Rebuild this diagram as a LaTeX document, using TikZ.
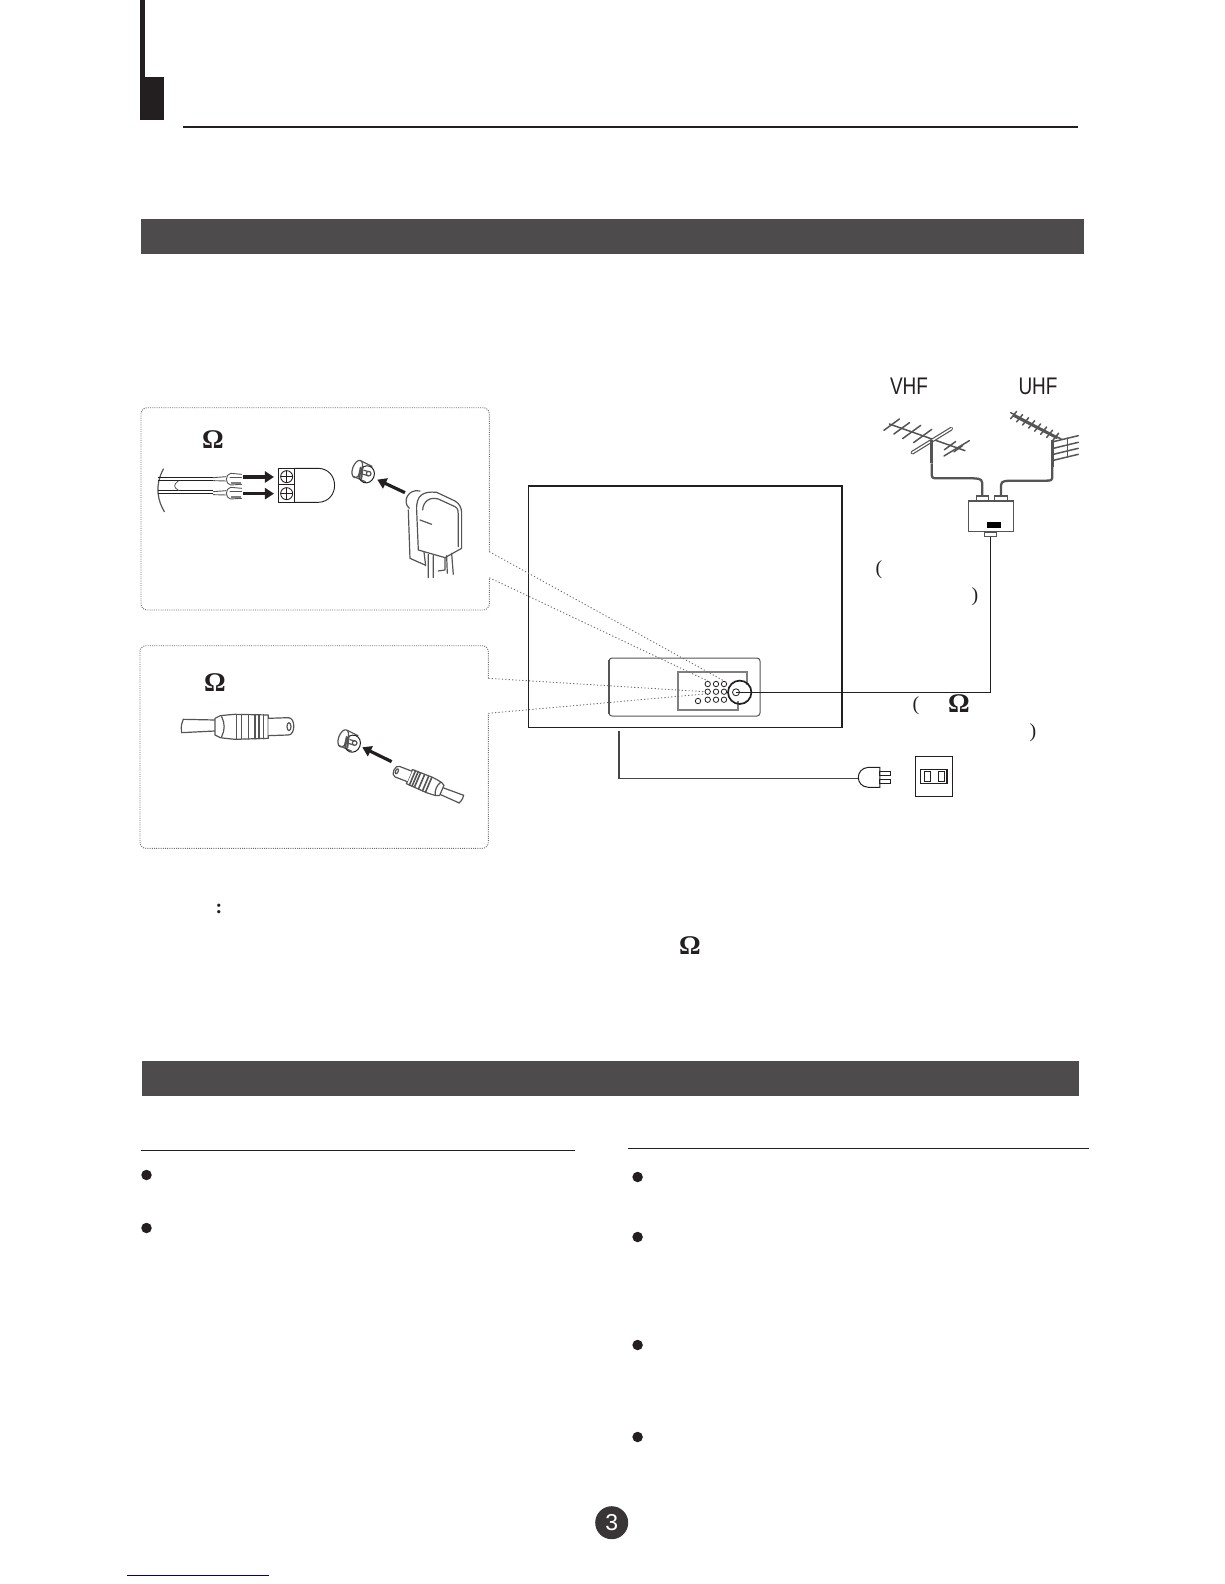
\documentclass[tikz,border=0pt]{standalone}
\usepackage{fontspec}
\setmainfont{Liberation Serif}
\newfontfamily\labelsans{Liberation Sans}
\usetikzlibrary{arrows.meta,calc}
\definecolor{band}{HTML}{4D4B4C}
\definecolor{ink}{HTML}{231F20}
\definecolor{art}{HTML}{555555}
\tikzset{
  bandbar/.style={fill=band,draw=none},
  rulebar/.style={draw=ink,line width=.9pt},
  dotbox/.style={draw=gray!85!black,line width=.9pt,dash pattern=on 1pt off 1.2pt,rounded corners=6pt},
  dotlink/.style={draw=gray!85!black,line width=.9pt,dash pattern=on 1.2pt off 2.2pt},
  omega/.style={font=\fontsize{27}{27}\selectfont\bfseries,inner sep=0pt,text=ink},
  paren/.style={font=\fontsize{20}{20}\selectfont,inner sep=0pt,text=ink},
  bandlabel/.style={font=\labelsans\fontsize{24}{24}\selectfont,inner sep=0pt,text=ink},
  artline/.style={draw=art,line width=1.2pt,line cap=round,line join=round},
  antline/.style={draw=art,line width=1.5pt,line cap=round},
  cable/.style={draw=art,line width=2.3pt,line join=round},
  blackline/.style={draw=ink,line width=1.5pt},
  fatarrow/.style={draw=ink,line width=3.2pt,-{Triangle[length=9pt,width=11pt]}},
  hole/.style={draw=ink,line width=.8pt,circle,inner sep=0pt,minimum size=5.4pt},
  bullet/.style={fill=ink,circle,inner sep=0pt,minimum size=10.5pt},
}
\newcommand{\socketart}{%
  \fill[white] (-22,-12) circle (20);
  \draw[artline] (-6,-34) -- (26,-18);
  \draw[artline] (-30,12) -- (6,28);
  \draw[artline] (-18,-10) ellipse [x radius=14,y radius=27,rotate=-20];
  \draw[draw=ink,line width=1pt] (10,6) ellipse [x radius=23,y radius=26,rotate=-20];
  \draw[artline,line width=2pt] (-8,-14) -- (-12,16);
  \draw[artline,line width=2pt] (-2,-16) -- (-6,18);
  \draw[artline] (2,-6) -- (16,-2) (0,6) -- (14,10);
  \draw[artline] (16,4) circle (7);
}
\newcommand{\coaxart}{%
  \draw[artline] (-165,-22) -- (-70,-20) (-170,18) -- (-70,13);
  \draw[artline] (-165,-22) .. controls (-172,-3) .. (-170,18);
  \draw[artline,fill=white] (-70,-25) .. controls (-60,-33) .. (-10,-37) -- (90,-35) -- (90,35) -- (-10,38) .. controls (-60,33) .. (-70,25) -- cycle;
  \foreach \rx in {-5,10,30,50,62,75}{\draw[artline,line width=1.6pt] (\rx,-36) -- (\rx,36);}
  \draw[artline] (-50,-30) .. controls (-40,-10) and (-40,10) .. (-50,30);
  \draw[artline,fill=white] (90,-25) -- (150,-27) .. controls (172,-27) and (172,25) .. (150,25) -- (90,27);
  \draw[artline] (152,0) ellipse [x radius=6,y radius=12];
}
\begin{document}
\begin{tikzpicture}[x=1pt,y=-1pt]
\useasboundingbox (0,0) rectangle (1224,1584);

% page header
\fill[ink] (140,0) rectangle (145,120);
\fill[ink] (140,77) rectangle (164,120);
\draw[rulebar,line width=2pt] (183,126.7) -- (1078,126.7);

% section bands
\fill[bandbar] (140.5,219) rectangle (1084,253.6);
\fill[bandbar] (141.5,1061) rectangle (1079,1096);

% dotted call-out frames
\draw[dotbox] (489.3,551.7) -- (489.3,407.7) -- (141,407.7) -- (141,610) -- (489.3,610) -- (489.3,577.7);
\draw[dotbox] (488.3,678.3) -- (488.3,645.7) -- (140,645.7) -- (140,848.3) -- (488.3,848.3) -- (488.3,713.3);
\coordinate (f1a) at (489.3,551.7);
\coordinate (f1b) at (489.3,577.7);
\coordinate (f2a) at (488.3,678.3);
\coordinate (f2b) at (488.3,713.3);

\node[omega] (om1) at (213,440) {Ω};
\node[omega] (om2) at (215,682.7) {Ω};
\node[omega] (om3) at (959,704) {Ω};
\node[omega] (om4) at (690,946) {Ω};

% twin-lead frame art
\begin{scope}[shift={(130,395)},x=.3333pt,y=-.3333pt]
  \draw[artline] (100,222) .. controls (72,275) and (85,320) .. (103,350);
  \draw[draw=ink,line width=.8pt] (85,248) -- (250,248) (85,257) -- (250,257);
  \draw[draw=ink,line width=.8pt] (85,287) -- (250,287) (85,296) -- (250,296);
  \draw[artline,line width=.8pt] (145,258) .. controls (130,268) and (130,278) .. (147,287);
  \foreach \dy in {0,42}{
    \begin{scope}[yshift=-\dy*.3333pt]
      \draw[artline,line width=.9pt] (250,248) -- (288,245) (250,257) -- (288,258);
      \draw[artline,line width=.9pt] (335,238) -- (302,235) .. controls (285,238) and (285,268) .. (302,270) -- (335,268);
      \draw[artline,line width=.9pt] (300,246) -- (335,246);
      \draw[line width=2pt,gray] (303,264) -- (333,264);
    \end{scope}
  }
  \draw[fatarrow] (340,246) -- (432,246);
  \draw[fatarrow] (340,296) -- (432,296);
  \draw[draw=ink,line width=.9pt] (495,220) -- (565,220) .. controls (630,222) and (630,320) .. (565,322) -- (495,322);
  \draw[draw=ink,line width=1pt] (445,220) rectangle (495,270);
  \draw[draw=ink,line width=1pt] (445,270) rectangle (495,322);
  \foreach \sy in {245,296}{
    \draw[draw=ink,line width=.9pt] (470,\sy) circle (18);
    \draw[draw=ink,line width=.9pt] (452,\sy) -- (488,\sy) (470,\sy-18) -- (470,\sy+18);
  }
  \begin{scope}[shift={(700,232)}]\socketart\end{scope}
  \draw[fatarrow] (825,293) -- (742,254);
  % matching adapter
  \draw[artline] (870,288) .. controls (835,280) and (815,320) .. (838,340);
  \draw[artline] (835,345) -- (840,490) -- (885,510);
  \draw[artline] (860,345) .. controls (858,300) and (880,288) .. (920,292) -- (975,318) .. controls (990,326) and (994,340) .. (995,352) -- (995,460) -- (945,488) -- (865,465) -- cycle;
  \draw[artline] (878,345) .. controls (880,318) and (900,305) .. (925,312) -- (975,335) .. controls (985,340) and (985,350) .. (985,360) -- (985,455);
  \draw[artline] (870,375) -- (905,388);
  \draw[artline] (882,470) -- (887,512) (895,478) -- (895,548) (910,482) -- (910,548) (945,488) -- (945,525) -- (925,528);
  \draw[artline] (965,475) -- (970,538) (950,482) -- (952,535);
\end{scope}

% coax frame art
\begin{scope}[shift={(130,630)},x=.3333pt,y=-.3333pt]
  \begin{scope}[shift={(325,290)}]\coaxart\end{scope}
  \begin{scope}[shift={(658,335)}]\socketart\end{scope}
  \draw[fatarrow] (785,395) -- (697,352);
  \begin{scope}[shift={(893,463)},rotate=157,scale=.66]\coaxart\end{scope}
\end{scope}

% television outline and rear panel
\node[draw=ink,line width=1.1pt,minimum width=313.5pt,minimum height=241.5pt,inner sep=0pt] (tv) at (685.2,606.7) {};
\node[draw=art,line width=1pt,rounded corners=3pt,minimum width=151pt,minimum height=58pt,inner sep=0pt] (panel) at (684.5,687) {};
\draw[draw=art,line width=1.5pt] (609,660) -- (609,714);
\draw[draw=gray,line width=1.1pt] (738,701) -- (738,710) -- (678,710) -- (678,672) -- (747,672) -- (747,685);
\node[draw=ink,line width=1.7pt,circle,inner sep=0pt,minimum size=23.4pt] (jack) at (739.7,692.3) {};
\node[hole,minimum size=7pt] (jackhole) at (736,692.3) {};
\foreach \cx/\cn in {707.7/a,716/b,724/c}{
  \foreach \cy/\rn in {684/p,691.7/q,699.7/r}{
    \node[hole] (h\cn\rn) at (\cx,\cy) {};
  }
}
\node[hole] (hx) at (698,701) {};

% links from call-outs to the panel
\draw[dotlink] (f1a) -- (hcp.north);
\draw[dotlink] (f1b) -- (hap.north);
\draw[dotlink] (f2a) -- (haq.west);
\draw[dotlink] (f2b) -- (haq.south west);

% antennas
\begin{scope}[shift={(850,360)},x=.3333pt,y=-.3333pt]
  \draw[antline] (118,192) -- (345,272);
  \foreach \ex/\ey/\el in {125/194/.9,155/205/.9,185/216/1.05,218/228/1.05,300/257/.65,325/266/.5}{
    \draw[antline] ({\ex-26*\el},{\ey+19*\el}) -- ({\ex+26*\el},{\ey-19*\el});
  }
  \draw[draw=art,line width=3.8pt,line cap=round] (187,278) -- (304,206);
  \draw[draw=white,line width=1.4pt,line cap=round] (187,278) -- (304,206);
  \draw[antline] (282,288) -- (358,242);
  \draw[antline] (482,158) -- (635,238) (490,168) -- (620,235);
  \foreach \ux in {490,508,526,544,562,580,598,616}{
    \draw[antline] ({\ux+10},{(\ux-482)*.52+150}) -- ({\ux-8},{(\ux-482)*.52+172});
  }
  \foreach \ry in {0,20,38,56}{
    \draw[antline] (610,{245+\ry}) -- (685,{227+\ry});
  }
  \draw[antline] (652,235) -- (652,290);
  \draw[cable,line width=3pt] (245,240) -- (245,310);
  \draw[cable,line width=3pt] (607,240) -- (607,320);
  \node[draw=art,line width=1.5pt,minimum width=45.4pt,minimum height=30.7pt,inner sep=0pt] (splitter) at (423,469) {};
  \node[fill=black,minimum width=14pt,minimum height=5.4pt,inner sep=0pt] (splitmark) at (432,495) {};
  \node[draw=art,line width=1.2pt,minimum width=12.3pt,minimum height=4.3pt,inner sep=0pt,anchor=south] (inv) at (397,423) {};
  \node[draw=art,line width=1.2pt,minimum width=12.3pt,minimum height=4.3pt,inner sep=0pt,anchor=south] (inu) at (453,423) {};
  \node[draw=art,line width=1.2pt,minimum width=12.3pt,minimum height=4.3pt,inner sep=0pt,anchor=north] (out) at (422,515) {};
  \coordinate (vmast) at (245,310);
  \coordinate (umast) at (607,320);
  \draw[cable] (vmast) -- (245,335) .. controls (245,355) .. (265,355) -- (370,355) .. controls (397,357) .. (397,385) -- (inv.north);
  \draw[cable] (umast) -- (607,342) .. controls (607,362) .. (585,362) -- (480,362) .. controls (453,364) .. (453,388) -- (inu.north);
\end{scope}
\node[bandlabel] (vhf) at (909,386.7) {\scalebox{.79}[1]{VHF}};
\node[bandlabel] (uhf) at (1038,386.7) {\scalebox{.79}[1]{UHF}};

% aerial feed
\draw[blackline] (jackhole.center) -- (jackhole.center -| out.south) -- (out.south);

\node[paren] (p1) at (879,570) {(};
\node[paren] (p2) at (975,597) {)};
\node[paren] (p3) at (916,706) {(};
\node[paren] (p4) at (1033,733) {)};

% mains plug and outlet
\begin{scope}[shift={(600,680)},x=.3333pt,y=-.3333pt]
  \coordinate (cordtop) at (57,153);
  \coordinate (plugback) at (775,296);
  \draw[draw=ink,line width=1pt] (840,262) -- (805,262) .. controls (765,265) and (765,320) .. (805,322) -- (840,322) -- cycle;
  \draw[draw=ink,line width=1pt] (840,274) rectangle (872,288);
  \draw[draw=ink,line width=1pt] (840,298) rectangle (872,312);
  \node[draw=ink,line width=1pt,minimum width=37pt,minimum height=40pt,inner sep=0pt] (outlet) at (1002.5,289) {};
  \draw[draw=ink,line width=1pt] (962,268) rectangle (1042,310);
  \draw[draw=ink,line width=1.8pt] (1041,268) -- (1041,310);
  \draw[draw=ink,line width=1pt] (973,275) rectangle (992,304);
  \draw[draw=ink,line width=1pt] (1015,275) rectangle (1034,304);
\end{scope}
\draw[blackline,draw=art!70!ink] (cordtop) |- (plugback);

% colon of the note
\node[inner sep=0pt,font=\fontsize{20}{20}\selectfont\bfseries,text=ink] (colon) at (219,909) {:};

% column rules and bullets
\draw[rulebar] (140.5,1150) -- (575,1150);
\draw[rulebar] (627.5,1148) -- (1089,1148);
\node[bullet] (b1) at (146.5,1175) {};
\node[bullet] (b2) at (146.5,1228) {};
\node[bullet] (b3) at (637.6,1177) {};
\node[bullet] (b4) at (637.6,1237) {};
\node[bullet] (b5) at (637.6,1345) {};
\node[bullet] (b6) at (637.6,1437) {};

% page number
\node[circle,fill=ink!90!white,minimum size=33pt,inner sep=0pt,text=white,font=\labelsans\fontsize{23}{23}\selectfont] (pageno) at (611.7,1522.7) {3};
\draw[draw=blue!50!black,line width=1pt] (126.7,1575.3) -- (269,1575.3);
\end{tikzpicture}
\end{document}
